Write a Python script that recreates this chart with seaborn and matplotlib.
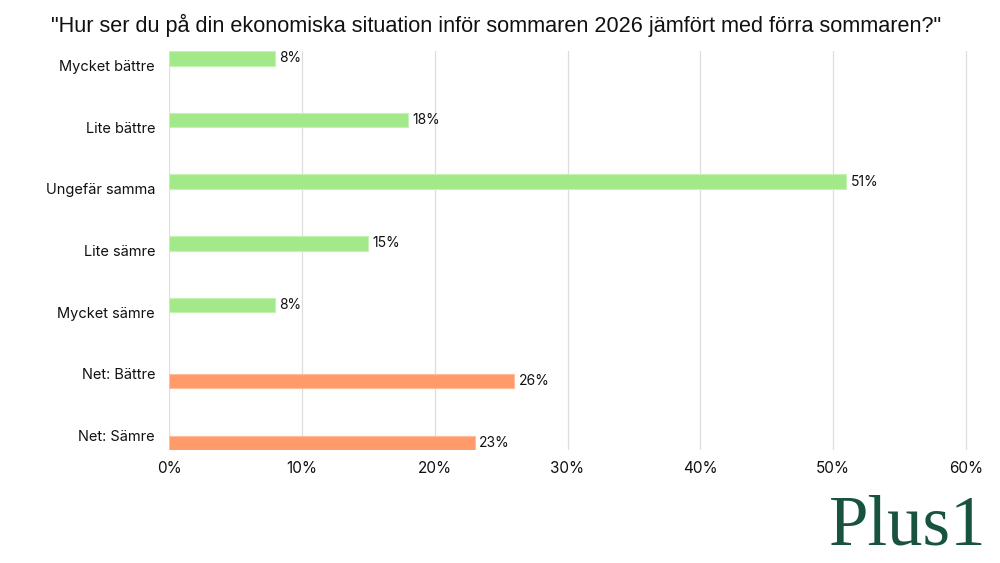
import pandas as pd
import matplotlib.pyplot as plt
import seaborn as sns

categories = ["Mycket bättre", "Lite bättre", "Ungefär samma", "Lite sämre",
              "Mycket sämre", "Net: Bättre", "Net: Sämre"]
values = [8, 18, 51, 15, 8, 26, 23]
groups = ["Svar", "Svar", "Svar", "Svar", "Svar", "Net", "Net"]
x_ticks = [0, 10, 20, 30, 40, 50, 60]

title = '"Hur ser du på din ekonomiska situation inför sommaren 2026 jämfört med förra sommaren?"'

df = pd.DataFrame({"kategori": categories, "andel": values, "grupp": groups})

sns.set_theme(style="white")
plt.rcParams['font.family'] = ['Inter', 'DejaVu Sans']

fig = plt.figure(figsize=(10, 5.63), dpi=100)
ax = fig.add_axes([0.169, 0.2007, 0.799, 0.7087])

palette = {"Svar": "#a3e98a", "Net": "#ff9b6b"}
sns.barplot(data=df, x="andel", y="kategori", hue="grupp", order=categories,
            hue_order=["Svar", "Net"], palette=palette, dodge=True, width=0.47,
            orient="h", saturation=1, legend=False, ax=ax, zorder=3)

edge = {"Svar": "#c4f2b0", "Net": "#ffbd9c"}
for cont, g in zip(ax.containers, ["Svar", "Net"]):
    for bar in cont:
        bar.set_edgecolor(edge[g])
        bar.set_linewidth(0.8)
    ax.bar_label(cont, labels=[f"{v:.0f}%" if v == v else "" for v in cont.datavalues],
                 padding=3, fontsize=10, color="#111111")

ax.set_xlim(0, 60.15)
ax.set_ylim(6.235, -0.235)
ax.set_xticks(x_ticks)
ax.set_xticklabels([f"{t}%" for t in x_ticks], fontsize=11, color="#111111")
ax.tick_params(axis="x", pad=8, length=0)
ax.tick_params(axis="y", pad=10, length=0, labelsize=10.5, labelcolor="#111111")
ax.set_xlabel("")
ax.set_ylabel("")
ax.grid(axis="x", color="#dddddd", linewidth=0.9, zorder=0)
ax.grid(axis="y", visible=False)
for s in ax.spines.values():
    s.set_visible(False)

fig.text(0.496, 0.955, title, ha="center", va="center", fontsize=15.6,
         family=["Liberation Sans", "DejaVu Sans"], color="#111111")

fig.text(0.986, 0.033, "Plus1", ha="right", va="baseline", fontsize=51,
         family=["Liberation Serif", "DejaVu Serif"], color="#17533f")

fig.savefig("out.png", dpi=100, facecolor="white")
